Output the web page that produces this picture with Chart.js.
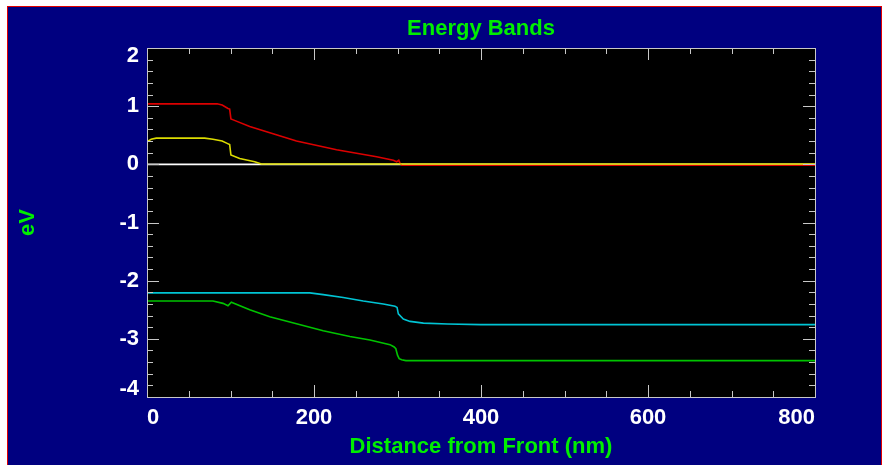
<!DOCTYPE html>
<html>
<head>
<meta charset="utf-8">
<title>Energy Bands</title>
<script src="https://cdn.jsdelivr.net/npm/chart.js@4"></script>
<style>
  html, body { margin: 0; padding: 0; background: #ffffff; overflow: hidden; }
  #frame {
    position: absolute; left: 7px; top: 6px; width: 873px; height: 480px;
    border: 1px solid #e00000; background: #000080;
  }
  #chart { position: absolute; left: 0; top: 0; }
</style>
</head>
<body>
<div id="frame"></div>
<canvas id="chart" width="882" height="465"></canvas>
<script>
// values (x in nm, y in eV)
var redX = [0, 84, 90, 97, 99, 100.5, 104, 123, 150, 179, 227, 275, 295, 299, 301.5, 303, 305, 800];
var redY = [1.04, 1.04, 1.02, 0.96, 0.95, 0.78, 0.76, 0.65, 0.53, 0.40, 0.25, 0.13, 0.07, 0.045, 0.07, 0.02, -0.015, -0.015];

var yellowX = [0, 5, 11, 69, 79, 90, 96, 99, 100.5, 111, 129, 137, 800];
var yellowY = [0.39, 0.43, 0.45, 0.45, 0.43, 0.40, 0.36, 0.34, 0.16, 0.10, 0.045, 0.005, 0.005];

var cyanX = [0, 195, 211, 235, 259, 283, 297, 299.5, 301, 307, 315, 331, 360, 400, 800];
var cyanY = [-2.21, -2.21, -2.24, -2.29, -2.35, -2.40, -2.44, -2.46, -2.57, -2.66, -2.70, -2.73, -2.745, -2.755, -2.755];

var greenX = [0, 79, 91, 97, 101, 123, 147, 179, 211, 243, 267, 291, 296, 298, 300, 302, 305, 310, 800];
var greenY = [-2.35, -2.35, -2.39, -2.43, -2.37, -2.50, -2.62, -2.74, -2.86, -2.96, -3.02, -3.10, -3.14, -3.17, -3.28, -3.34, -3.36, -3.375, -3.375];

var zeroX = [0, 800];
var zeroY = [0, 0];

var xMin = 0, xMax = 800, xStep = 200, xMinorStep = 50;
var yMin = -4, yMax = 2, yStep = 1, yMinorStep = 0.2;

function points(xs, ys) {
  var out = [];
  for (var i = 0; i < xs.length; i++) {
    out.push({x: xs[i], y: ys[i]});
  }
  return out;
}

function band(data, color, order) {
  return {
    data: data,
    borderColor: color,
    borderWidth: 1.6,
    pointRadius: 0,
    tension: 0,
    fill: false,
    order: order
  };
}

var font = '"Liberation Sans", Arial, sans-serif';
var green = '#00ee00';

// black plot area, grey frame, ticks pointing inwards on all four sides
var frameTicks = {
  id: 'frameTicks',
  beforeDatasetsDraw: function(chart) {
    var a = chart.chartArea;
    chart.ctx.save();
    chart.ctx.fillStyle = '#000000';
    chart.ctx.fillRect(a.left, a.top, a.right - a.left, a.bottom - a.top);
    chart.ctx.restore();
  },
  afterDatasetsDraw: function(chart) {
    var ctx = chart.ctx, a = chart.chartArea;
    var xs = chart.scales.x, ys = chart.scales.y;
    ctx.save();
    ctx.strokeStyle = '#c8c8c8';
    ctx.lineWidth = 1;
    ctx.beginPath();
    for (var v = xMin; v <= xMax + 0.001; v += xMinorStep) {
      var px = Math.round(xs.getPixelForValue(v)) + 0.5;
      var len = (Math.abs(v % xStep) < 0.001) ? 12 : 6;
      ctx.moveTo(px, a.bottom); ctx.lineTo(px, a.bottom - len);
      ctx.moveTo(px, a.top); ctx.lineTo(px, a.top + len);
    }
    for (var k = 0; yMin + k * yMinorStep <= yMax + 0.001; k++) {
      var val = yMin + k * yMinorStep;
      var py = Math.round(ys.getPixelForValue(val)) + 0.5;
      var major = Math.abs(val - Math.round(val)) < 0.001;
      var l = major ? 12 : 6;
      ctx.moveTo(a.left, py); ctx.lineTo(a.left + l, py);
      ctx.moveTo(a.right, py); ctx.lineTo(a.right - l, py);
    }
    ctx.stroke();
    ctx.strokeRect(Math.round(a.left) + 0.5, Math.round(a.top) + 0.5,
                   Math.round(a.right - a.left), Math.round(a.bottom - a.top));
    ctx.restore();
  }
};

var ctx = document.getElementById('chart');
var chart = new Chart(ctx, {
  type: 'line',
  data: {
    datasets: [
      band(points(zeroX, zeroY), '#ffffff', 5),
      band(points(redX, redY), '#dc0000', 4),
      band(points(yellowX, yellowY), '#dcdc00', 3),
      band(points(cyanX, cyanY), '#00c4d4', 2),
      band(points(greenX, greenY), '#00c400', 1)
    ]
  },
  options: {
    responsive: false,
    animation: false,
    devicePixelRatio: 1,
    layout: { padding: { left: 0, right: 67, top: 0, bottom: 0 } },
    plugins: {
      legend: { display: false },
      tooltip: { enabled: false },
      title: {
        display: true,
        text: 'Energy Bands',
        color: green,
        fullSize: false,
        font: { family: font, size: 22, weight: 'bold', lineHeight: 1.2 },
        padding: { top: 15.5, bottom: 6.1 }
      }
    },
    scales: {
      x: {
        type: 'linear',
        min: xMin,
        max: xMax,
        grid: { display: false, drawTicks: false },
        border: { display: false },
        ticks: {
          stepSize: xStep,
          align: 'inner',
          color: '#ffffff',
          padding: 8,
          maxRotation: 0,
          font: { family: font, size: 22, weight: 'bold', lineHeight: 1.2 }
        },
        title: {
          display: true,
          text: 'Distance from Front (nm)',
          color: green,
          font: { family: font, size: 22, weight: 'bold', lineHeight: 1.2 },
          padding: { top: 0, bottom: 5 }
        },
        afterFit: function(scale) { scale.height = 68; }
      },
      y: {
        type: 'linear',
        min: yMin,
        max: yMax,
        grid: { display: false, drawTicks: false },
        border: { display: false },
        ticks: {
          stepSize: yStep,
          color: '#ffffff',
          padding: 8,
          font: { family: font, size: 22, weight: 'bold', lineHeight: 0.73 },
          callback: function(value) {
            // end labels sit inside the axis, as in the original plot
            if (value === yMax) return ['', String(value)];
            if (value === yMin) return [String(value), ''];
            return String(value);
          }
        },
        title: {
          display: true,
          text: 'eV',
          color: green,
          font: { family: font, size: 22, weight: 'bold', lineHeight: 1.2 },
          padding: { top: 15, bottom: 0 }
        },
        afterFit: function(scale) { scale.width = 147; }
      }
    }
  },
  plugins: [frameTicks]
});
</script>
</body>
</html>
